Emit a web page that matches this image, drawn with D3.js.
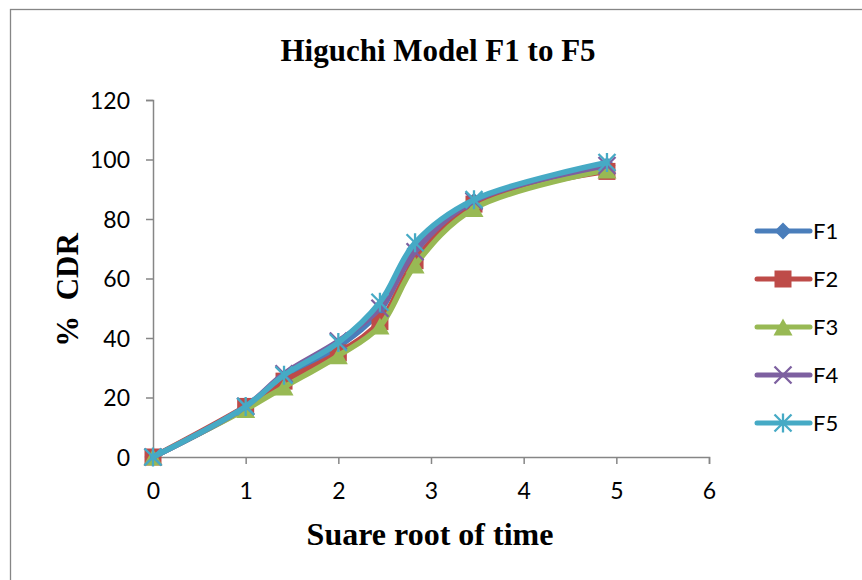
<!DOCTYPE html>
<html>
<head>
<meta charset="utf-8">
<script src="https://cdn.jsdelivr.net/npm/d3@7"></script>
<style>
  html, body { margin: 0; padding: 0; background: #fff; }
  svg { display: block; }
</style>
</head>
<body>
<svg id="chart" width="862" height="580"></svg>
<script>
// Square root of time (sqrt of 0, 1, 2, 4, 6, 8, 12, 24 h)
const sqrtTime = [0, 1, 1.414, 2, 2.449, 2.828, 3.464, 4.899];

// % cumulative drug release for each formulation
const F1 = [0, 16.5, 26, 37, 49, 70, 86, 98];
const F2 = [0, 17, 25.5, 35, 45.5, 66, 85, 96];
const F3 = [0, 16, 23.5, 34, 44, 64.5, 83.5, 96.5];
const F4 = [0, 17, 28, 39, 50, 69, 86, 98];
const F5 = [0, 17, 27.5, 38.5, 52, 72, 86.5, 99];

const seriesNames = ["F1", "F2", "F3", "F4", "F5"];
const seriesValues = [F1, F2, F3, F4, F5];
const seriesColors = ["#4a7ebb", "#be4b48", "#98b954", "#7d60a0", "#46aac5"];
const seriesMarkers = ["diamond", "square", "triangle", "cross", "star"];

const xTicks = [0, 1, 2, 3, 4, 5, 6];
const yTicks = [0, 20, 40, 60, 80, 100, 120];

const svg = d3.select("#chart");
const tickFont = "Lato, 'Open Sans', sans-serif";
const serif = "'Liberation Serif', 'Times New Roman', serif";

// Outer chart frame
svg.append("rect")
  .attr("x", 10.5).attr("y", 9.5)
  .attr("width", 900).attr("height", 600)
  .attr("fill", "#fff")
  .attr("stroke", "#868686").attr("stroke-width", 1.3);

const x = d3.scaleLinear().domain([0, 6]).range([153, 709]);
const y = d3.scaleLinear().domain([0, 120]).range([457, 100]);

// Axes
const xAxis = svg.append("g").attr("transform", `translate(0,${y(0)})`)
  .call(d3.axisBottom(x).tickValues(xTicks).tickSize(7).tickPadding(19).tickFormat(d3.format("d")));
const yAxis = svg.append("g").attr("transform", `translate(${x(0)},0)`)
  .call(d3.axisLeft(y).tickValues(yTicks).tickSize(7).tickPadding(16).tickFormat(d3.format("d")));

[xAxis, yAxis].forEach(g => {
  g.select(".domain").attr("stroke", "#868686").attr("stroke-width", 1.5);
  g.selectAll(".tick line").attr("stroke", "#868686").attr("stroke-width", 1.5);
  g.selectAll(".tick text")
    .attr("fill", "#000")
    .style("font-family", tickFont)
    .style("font-size", "23px");
});
yAxis.selectAll(".tick text").attr("dy", "0.35em");

// Titles
svg.append("text")
  .attr("x", 438).attr("y", 61)
  .attr("text-anchor", "middle")
  .style("font-family", serif).style("font-weight", "bold").style("font-size", "31px")
  .text("Higuchi Model F1 to F5");

svg.append("text")
  .attr("x", 430).attr("y", 545)
  .attr("text-anchor", "middle")
  .style("font-family", serif).style("font-weight", "bold").style("font-size", "32px")
  .text("Suare root of time");

svg.append("text")
  .attr("transform", "translate(78,290) rotate(-90)")
  .attr("text-anchor", "middle")
  .style("font-family", serif).style("font-weight", "bold").style("font-size", "31px")
  .attr("xml:space", "preserve")
  .text("%  CDR");

// Marker drawing
function drawMarker(g, type, color, cx, cy) {
  const s = 8.5;
  if (type === "diamond") {
    g.append("path")
      .attr("d", `M${cx},${cy - s}L${cx + s},${cy}L${cx},${cy + s}L${cx - s},${cy}Z`)
      .attr("fill", color);
  } else if (type === "square") {
    g.append("rect")
      .attr("x", cx - s).attr("y", cy - s).attr("width", 2 * s).attr("height", 2 * s)
      .attr("fill", color);
  } else if (type === "triangle") {
    g.append("path")
      .attr("d", `M${cx},${cy - s}L${cx + s + 1},${cy + s}L${cx - s - 1},${cy + s}Z`)
      .attr("fill", color);
  } else if (type === "cross") {
    g.append("path")
      .attr("d", `M${cx - s},${cy - s}L${cx + s},${cy + s}M${cx - s},${cy + s}L${cx + s},${cy - s}`)
      .attr("stroke", color).attr("stroke-width", 2.3).attr("fill", "none");
  } else if (type === "star") {
    g.append("path")
      .attr("d", `M${cx - s},${cy - s}L${cx + s},${cy + s}M${cx - s},${cy + s}L${cx + s},${cy - s}M${cx},${cy - s - 1}L${cx},${cy + s + 1}`)
      .attr("stroke", color).attr("stroke-width", 2.3).attr("fill", "none");
  }
}

const line = d3.line()
  .x((d, i) => x(sqrtTime[i]))
  .y(d => y(d))
  .curve(d3.curveCatmullRom.alpha(0.5));

const plot = svg.append("g");
seriesValues.forEach((vals, k) => {
  const g = plot.append("g");
  g.append("path")
    .attr("d", line(vals))
    .attr("fill", "none")
    .attr("stroke", seriesColors[k])
    .attr("stroke-width", 5.5)
    .attr("stroke-linejoin", "round")
    .attr("stroke-linecap", "round");
  vals.forEach((v, i) => drawMarker(g, seriesMarkers[k], seriesColors[k], x(sqrtTime[i]), y(v)));
});

// Legend
const legend = svg.append("g");
seriesNames.forEach((name, k) => {
  const ly = 231 + k * 48;
  const g = legend.append("g");
  g.append("line")
    .attr("x1", 757).attr("x2", 810).attr("y1", ly).attr("y2", ly)
    .attr("stroke", seriesColors[k]).attr("stroke-width", 5).attr("stroke-linecap", "round");
  drawMarker(g, seriesMarkers[k], seriesColors[k], 783, ly);
  g.append("text")
    .attr("x", 813).attr("y", ly).attr("dy", "0.35em")
    .style("font-family", tickFont).style("font-size", "22px")
    .text(name);
});
</script>
</body>
</html>
